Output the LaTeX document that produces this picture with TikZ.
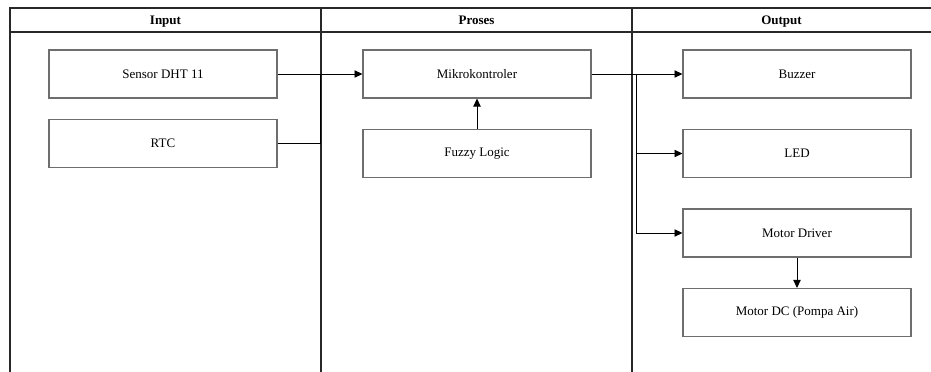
\documentclass[tikz,border=0pt]{standalone}
\usepackage{fontspec}
\setmainfont{Liberation Serif}
\usetikzlibrary{arrows.meta,positioning}
\definecolor{boxgray}{RGB}{110,110,110}
\definecolor{lanegray}{RGB}{40,40,40}

\begin{document}
\begin{tikzpicture}[x=0.02cm,y=-0.02cm,
  block/.style={draw=boxgray,line width=0.7pt,minimum width=4.56cm,minimum height=0.96cm,inner sep=0pt,font=\fontsize{7.4}{9}\selectfont},
  lane/.style={draw=lanegray,line width=0.7pt},
  lanehead/.style={text height=1.6ex,text depth=0.4ex,inner sep=0pt,font=\fontsize{7.4}{9}\selectfont\bfseries},
  link/.style={draw=black,line width=0.5pt},
  arr/.style={link,-{Triangle[length=4.5pt,width=4.2pt]}}]
\useasboundingbox (0,0) rectangle (931,372);
\clip (0,0) rectangle (931,372);
% lanes
\draw[lane] (10,372) -- (10,8) -- (935,8);
\draw[lane] (10,32) -- (935,32);
\draw[lane] (321,8) -- (321,376);
\draw[lane] (632,8) -- (632,376);
\node[lanehead] (hin) at (165.5,20) {Input};
\node[lanehead] (hpr) at (476.5,20) {Proses};
\node[lanehead] (hout) at (781.5,20) {Output};
% blocks
\node[block] (dht) at (163,74) {Sensor DHT 11};
\node[block] (rtc) at (163,143.5) {RTC};
\node[block] (mcu) at (477,74) {Mikrokontroler};
\node[block] (fuzzy) at (477,153.5) {Fuzzy Logic};
\node[block] (buzzer) at (797,74) {Buzzer};
\node[block] (led) at (797,153.5) {LED};
\node[block] (driver) at (797,233) {Motor Driver};
\node[block] (pump) at (797,312.5) {Motor DC (Pompa Air)};
% connectors
\coordinate (inbus) at (320,74);
\coordinate (outbus) at (636,74);
\draw[arr] (dht.east) -- (mcu.west);
\draw[link] (rtc.east) -- (inbus |- rtc.east) -- (inbus);
\draw[arr] (fuzzy.north) -- (mcu.south);
\draw[arr] (mcu.east) -- (buzzer.west);
\draw[arr] (outbus) |- (led.west);
\draw[arr] (outbus) |- (driver.west);
\draw[arr] (driver.south) -- (pump.north);
\end{tikzpicture}
\end{document}
